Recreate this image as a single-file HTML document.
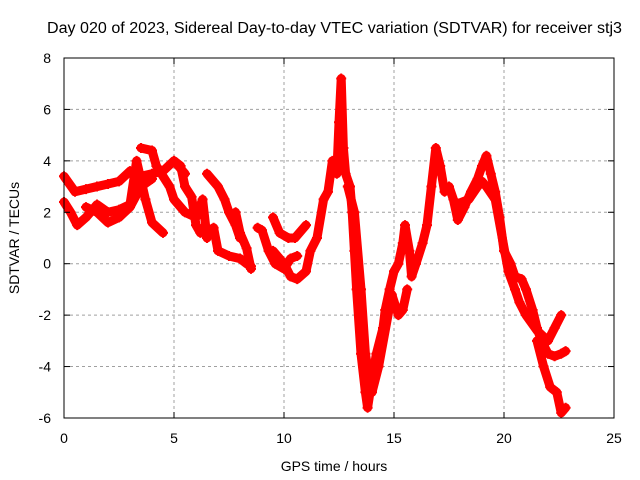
<!DOCTYPE html>
<html><head><meta charset="utf-8"><style>
body{margin:0;background:#fff}
svg{display:block;font-family:"Liberation Sans",sans-serif}
</style></head><body>
<svg width="640" height="480">
<rect x="0" y="0" width="640" height="480" fill="#fff"/>
<g id="grid"></g>
<g id="data"></g>
<rect x="64" y="58" width="550" height="360" fill="none" stroke="#000" stroke-width="1"/>
<g id="ticks"></g>
<text x="47" y="33" font-size="15.5" textLength="575" lengthAdjust="spacingAndGlyphs">Day 020 of 2023, Sidereal Day-to-day VTEC variation (SDTVAR) for receiver stj3</text>
<text x="334" y="471" text-anchor="middle" font-size="14">GPS time / hours</text>
<text transform="translate(19,238) rotate(-90)" text-anchor="middle" font-size="14">SDTVAR / TECUs</text>
</svg>
<script>
const xTicks=[0,5,10,15,20,25];
const yTicks=[-6,-4,-2,0,2,4,6,8];
const seriesA_t=[0,0.5,1,1.5,2,2.5,3,3.5,4,4.5,5,5.5];
const seriesA_v=[3.4,2.8,2.9,3.0,3.1,3.2,3.6,3.4,3.5,3.6,4.0,3.5];
const seriesB_t=[0,0.3,0.6,1,1.5,2,2.5,3,3.3,3.7,4,4.5];
const seriesB_v=[2.4,2.0,1.5,1.8,2.3,2.0,2.1,2.3,4.0,2.5,1.6,1.2];
const seriesC_t=[1,1.5,2,2.5,3,3.5,4];
const seriesC_v=[2.2,2.0,1.6,1.8,2.2,3.0,3.3];
const seriesD_t=[3.5,4,4.2,4.8,5,5.5,6,6.3,6.5];
const seriesD_v=[4.5,4.4,3.8,3.0,2.5,2.0,1.8,2.5,1.0];
const seriesE_t=[5,5.3,5.5,5.8,6,6.2];
const seriesE_v=[4.0,3.8,3.0,2.6,1.5,1.2];
const seriesF_t=[6.5,7,7.3,7.5,7.8,8];
const seriesF_v=[3.5,3.0,2.5,2.0,1.5,1.0];
const seriesG_t=[6.5,6.8,7,7.5,8,8.3,8.5];
const seriesG_v=[1.2,1.4,0.5,0.3,0.2,0,-0.1];
const seriesH_t=[7.8,8,8.3,8.5];
const seriesH_v=[2.0,1.2,0.6,-0.2];
const seriesI_t=[8.8,9,9.3,9.6,10,10.3,10.6];
const seriesI_v=[1.4,1.3,0.5,0,-0.2,0.2,0.3];
const seriesJ_t=[9.5,9.8,10.2,10.5,11];
const seriesJ_v=[1.8,1.2,1.0,1.0,1.5];
const seriesK_t=[9.5,10,10.3,10.6,11,11.2,11.5,11.8,12,12.2,12.4,12.5,12.6,12.7,12.8,13.0,13.1,13.2,13.3,13.5,13.7,13.8,14,14.2,14.5,14.6,14.8,15,15.2,15.4,15.5,15.7,15.8,16,16.3,16.5,16.7,16.9,17.1,17.3,17.5,17.7,17.9,18.2,18.5,18.8,19,19.2,19.4,19.6,19.8,20,20.3,20.5,20.8,21,21.3,21.5,21.7,22,22.3,22.6,22.8];
const seriesK_v=[0.5,0,-0.5,-0.6,-0.3,0.5,1.0,2.5,2.8,4.0,3.5,5.5,7.2,4.5,3.5,3.0,2.0,0.5,-1,-3.5,-5.0,-5.6,-4.5,-3.5,-2.5,-1.8,-1,-0.3,0,0.8,1.5,0.5,-0.5,0,0.8,1.5,3,4.5,3.8,2.8,3.0,2.5,1.7,2.2,2.8,3.3,3.8,4.2,3.5,2.8,1.8,0.5,0,-0.5,-0.6,-1,-1.8,-2.5,-3,-3.5,-3.6,-3.5,-3.4];
const seriesL_t=[12.9,13.2,13.5,13.7,14,14.3,14.9,15.2,15.4,15.6];
const seriesL_v=[3.0,2.0,-1,-3.5,-5,-4.0,-1.2,-2.0,-1.8,-1.0];
const seriesM_t=[17.8,18.4,18.8,19,19.2,19.6,20.2,20.5,20.7,21,21.5,22,22.3,22.6];
const seriesM_v=[2.3,2.5,3.0,3.2,3.0,2.5,-0.3,-1.0,-1.5,-2.0,-2.6,-3,-2.5,-2.0];
const seriesN_t=[21.5,21.8,22.1,22.4,22.6,22.8];
const seriesN_v=[-3.0,-4,-4.8,-5.0,-5.8,-5.6];
const allSeries=[[seriesA_t,seriesA_v],[seriesB_t,seriesB_v],[seriesC_t,seriesC_v],[seriesD_t,seriesD_v],[seriesE_t,seriesE_v],[seriesF_t,seriesF_v],[seriesG_t,seriesG_v],[seriesH_t,seriesH_v],[seriesI_t,seriesI_v],[seriesJ_t,seriesJ_v],[seriesK_t,seriesK_v],[seriesL_t,seriesL_v],[seriesM_t,seriesM_v],[seriesN_t,seriesN_v]];
const NS="http://www.w3.org/2000/svg";
const X=t=>64+t*22, Y=v=>263.7-v*25.714;
const grid=document.getElementById('grid'),ticks=document.getElementById('ticks'),data=document.getElementById('data');
function mk(tag,at,p){const e=document.createElementNS(NS,tag);for(const k in at)e.setAttribute(k,at[k]);p.appendChild(e);return e;}
xTicks.forEach(t=>{
 if(t>0&&t<25){const g=mk('line',{x1:X(t),x2:X(t),y1:58,y2:418,stroke:'#a0a0a0','stroke-dasharray':'3,3'},grid);
 
 }
 mk('line',{x1:X(t),x2:X(t),y1:418,y2:412,stroke:'#000'},ticks);
 mk('line',{x1:X(t),x2:X(t),y1:58,y2:64,stroke:'#000'},ticks);
 const l=mk('text',{x:X(t),y:443,'text-anchor':'middle','font-size':14},ticks);l.textContent=t;
 
 
});
yTicks.forEach(v=>{
 if(v>-6&&v<8){const g=mk('line',{x1:64,x2:614,y1:Y(v),y2:Y(v),stroke:'#a0a0a0','stroke-dasharray':'3,3'},grid);
 
 }
 mk('line',{x1:64,x2:70,y1:Y(v),y2:Y(v),stroke:'#000'},ticks);
 mk('line',{x1:614,x2:608,y1:Y(v),y2:Y(v),stroke:'#000'},ticks);
 const l=mk('text',{x:51,y:Y(v)+5,'text-anchor':'end','font-size':14},ticks);l.textContent=v;
 
 
});
allSeries.forEach(([ts,vs])=>{
 const pts=ts.map((t,i)=>X(t)+','+Y(vs[i])).join(' ');
 const pl=mk('polyline',{points:pts,fill:'none',stroke:'#ff0000','stroke-width':9,'stroke-linejoin':'round','stroke-linecap':'round'},data);
 
 
 ts.forEach((t,i)=>{const x=X(t),y=Y(vs[i]);
  const m=mk('path',{d:`M${x-5},${y}H${x+5}M${x},${y-5}V${y+5}`,stroke:'#ff0000','stroke-width':2},data);
  
  
 });
});
</script>
</body></html>
